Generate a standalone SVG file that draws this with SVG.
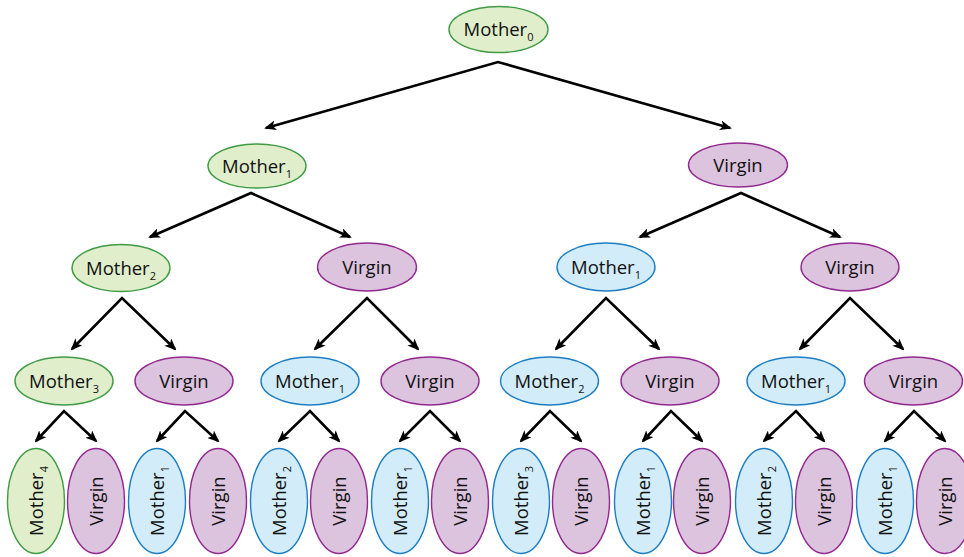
<svg xmlns="http://www.w3.org/2000/svg" width="964" height="557" viewBox="0 0 964 557">
<style>
.g{fill:#e0eecb;stroke:#3e9b43;stroke-width:1.4}
.p{fill:#dcc3de;stroke:#92278f;stroke-width:1.4}
.b{fill:#d2ecf9;stroke:#1b7dc3;stroke-width:1.4}
text{font-family:"Open Sans","Liberation Sans",sans-serif;font-size:18.5px;fill:#111;text-anchor:middle}
.s{font-size:11px}
.c{fill:none;stroke:#000;stroke-width:2.6;stroke-linejoin:miter;marker-start:url(#ah);marker-end:url(#ah)}
</style>
<defs>
<marker id="ah" viewBox="0 0 12 10" markerWidth="12" markerHeight="10" refX="10" refY="5" orient="auto-start-reverse" markerUnits="userSpaceOnUse">
<path d="M0,0 L12,5 L0,10 L3,5 z" fill="#000"/>
</marker>
</defs>
<g id="connectors">
<polyline class="c" points="266,128 498,62 730,128"/>
<polyline class="c" points="150,237 251,193 350,237"/>
<polyline class="c" points="640,237 741,193 840,237"/>
<polyline class="c" points="72,349 122,298 175,349"/>
<polyline class="c" points="315,349 367,298 418,349"/>
<polyline class="c" points="556,349 606,298 659,349"/>
<polyline class="c" points="800,349 850,298 903,349"/>
<polyline class="c" points="36,441 64,411 96,441"/>
<polyline class="c" points="157,441 185,411 218,441"/>
<polyline class="c" points="279,441 310,411 339,441"/>
<polyline class="c" points="400,441 430,411 460,441"/>
<polyline class="c" points="521,441 550,411 581,441"/>
<polyline class="c" points="643,441 671,411 702,441"/>
<polyline class="c" points="764,441 796,411 824,441"/>
<polyline class="c" points="885,441 914,411 945,441"/>
</g>
<g id="n0"><ellipse class="g" cx="498.5" cy="29.5" rx="49.5" ry="23"/><text x="498.5" y="36">Mother<tspan class="s" dy="5">0</tspan></text></g>
<g id="n1"><ellipse class="g" cx="257" cy="166" rx="49" ry="22"/><text x="257" y="172.5">Mother<tspan class="s" dy="5">1</tspan></text></g>
<g id="n2"><ellipse class="p" cx="738" cy="165" rx="49.5" ry="22"/><text x="738" y="171.5">Virgin</text></g>
<g id="n3"><ellipse class="g" cx="121" cy="268" rx="49" ry="23.5"/><text x="121" y="274.5">Mother<tspan class="s" dy="5">2</tspan></text></g>
<g id="n4"><ellipse class="p" cx="367" cy="267" rx="49.5" ry="24"/><text x="367" y="273.5">Virgin</text></g>
<g id="n5"><ellipse class="b" cx="606" cy="267" rx="49" ry="24"/><text x="606" y="273.5">Mother<tspan class="s" dy="5">1</tspan></text></g>
<g id="n6"><ellipse class="p" cx="850" cy="267" rx="49" ry="24"/><text x="850" y="273.5">Virgin</text></g>
<g id="n7"><ellipse class="g" cx="64" cy="381" rx="49" ry="24"/><text x="64" y="387.5">Mother<tspan class="s" dy="5">3</tspan></text></g>
<g id="n8"><ellipse class="p" cx="184" cy="381" rx="49" ry="24"/><text x="184" y="387.5">Virgin</text></g>
<g id="n9"><ellipse class="b" cx="310" cy="381" rx="49" ry="24"/><text x="310" y="387.5">Mother<tspan class="s" dy="5">1</tspan></text></g>
<g id="n10"><ellipse class="p" cx="430" cy="381" rx="49" ry="24"/><text x="430" y="387.5">Virgin</text></g>
<g id="n11"><ellipse class="b" cx="549.5" cy="381" rx="49" ry="24"/><text x="549.5" y="387.5">Mother<tspan class="s" dy="5">2</tspan></text></g>
<g id="n12"><ellipse class="p" cx="670" cy="381" rx="49" ry="24"/><text x="670" y="387.5">Virgin</text></g>
<g id="n13"><ellipse class="b" cx="796" cy="381" rx="49" ry="24"/><text x="796" y="387.5">Mother<tspan class="s" dy="5">1</tspan></text></g>
<g id="n14"><ellipse class="p" cx="913.5" cy="381" rx="49" ry="24"/><text x="913.5" y="387.5">Virgin</text></g>
<g id="n15"><ellipse class="g" cx="36" cy="501" rx="28.5" ry="52.5"/><text transform="translate(36,501) rotate(-90)" x="0" y="6.5">Mother<tspan class="s" dy="5">4</tspan></text></g>
<g id="n16"><ellipse class="p" cx="96" cy="501" rx="28.5" ry="52.5"/><text transform="translate(96,501) rotate(-90)" x="0" y="6.5">Virgin</text></g>
<g id="n17"><ellipse class="b" cx="157" cy="501" rx="28.5" ry="52.5"/><text transform="translate(157,501) rotate(-90)" x="0" y="6.5">Mother<tspan class="s" dy="5">1</tspan></text></g>
<g id="n18"><ellipse class="p" cx="218" cy="501" rx="28.5" ry="52.5"/><text transform="translate(218,501) rotate(-90)" x="0" y="6.5">Virgin</text></g>
<g id="n19"><ellipse class="b" cx="279" cy="501" rx="28.5" ry="52.5"/><text transform="translate(279,501) rotate(-90)" x="0" y="6.5">Mother<tspan class="s" dy="5">2</tspan></text></g>
<g id="n20"><ellipse class="p" cx="339" cy="501" rx="28.5" ry="52.5"/><text transform="translate(339,501) rotate(-90)" x="0" y="6.5">Virgin</text></g>
<g id="n21"><ellipse class="b" cx="400" cy="501" rx="28.5" ry="52.5"/><text transform="translate(400,501) rotate(-90)" x="0" y="6.5">Mother<tspan class="s" dy="5">1</tspan></text></g>
<g id="n22"><ellipse class="p" cx="460" cy="501" rx="28.5" ry="52.5"/><text transform="translate(460,501) rotate(-90)" x="0" y="6.5">Virgin</text></g>
<g id="n23"><ellipse class="b" cx="521" cy="501" rx="28.5" ry="52.5"/><text transform="translate(521,501) rotate(-90)" x="0" y="6.5">Mother<tspan class="s" dy="5">3</tspan></text></g>
<g id="n24"><ellipse class="p" cx="581" cy="501" rx="28.5" ry="52.5"/><text transform="translate(581,501) rotate(-90)" x="0" y="6.5">Virgin</text></g>
<g id="n25"><ellipse class="b" cx="643" cy="501" rx="28.5" ry="52.5"/><text transform="translate(643,501) rotate(-90)" x="0" y="6.5">Mother<tspan class="s" dy="5">1</tspan></text></g>
<g id="n26"><ellipse class="p" cx="702" cy="501" rx="28.5" ry="52.5"/><text transform="translate(702,501) rotate(-90)" x="0" y="6.5">Virgin</text></g>
<g id="n27"><ellipse class="b" cx="764" cy="501" rx="28.5" ry="52.5"/><text transform="translate(764,501) rotate(-90)" x="0" y="6.5">Mother<tspan class="s" dy="5">2</tspan></text></g>
<g id="n28"><ellipse class="p" cx="824" cy="501" rx="28.5" ry="52.5"/><text transform="translate(824,501) rotate(-90)" x="0" y="6.5">Virgin</text></g>
<g id="n29"><ellipse class="b" cx="885" cy="501" rx="28.5" ry="52.5"/><text transform="translate(885,501) rotate(-90)" x="0" y="6.5">Mother<tspan class="s" dy="5">1</tspan></text></g>
<g id="n30"><ellipse class="p" cx="945" cy="501" rx="28.5" ry="52.5"/><text transform="translate(945,501) rotate(-90)" x="0" y="6.5">Virgin</text></g>
</svg>
